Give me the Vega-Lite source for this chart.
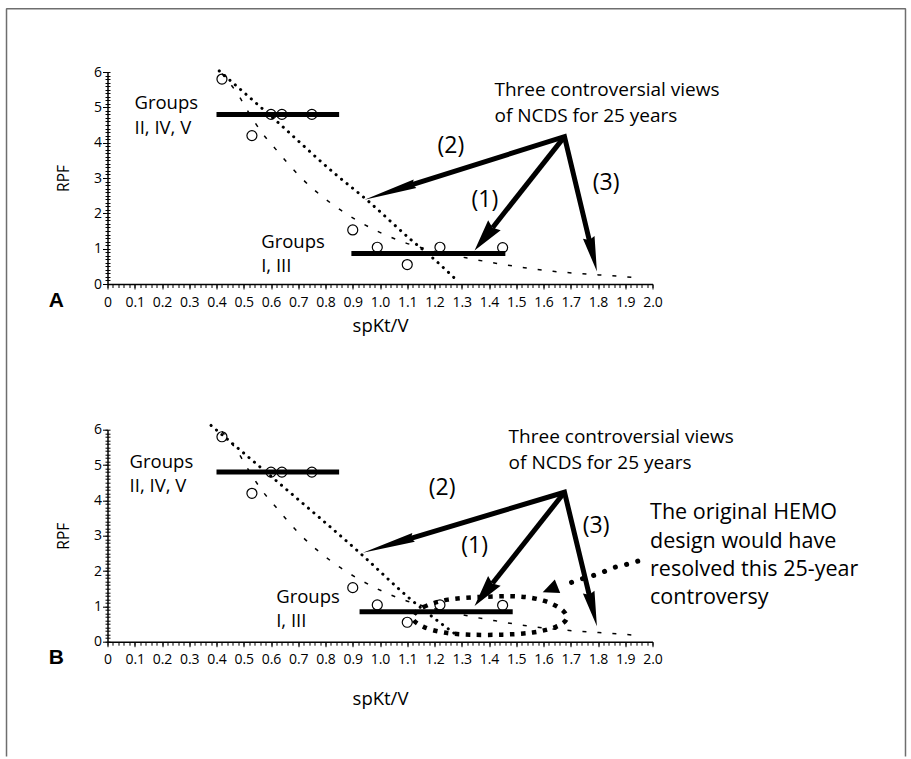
{
  "$schema": "https://vega.github.io/schema/vega-lite/v6.json",
  "autosize": {"type": "pad"},
  "padding": {"left": 5.5, "top": 8, "right": 3.5, "bottom": 0},
  "background": "white",
  "config": {
    "font": "Open Sans",
    "view": {"stroke": null},
    "style": {"guide-label": {"fontSize": 14, "font": "Open Sans", "fill": "black"}},
    "axis": {
      "labelFont": "Open Sans", "labelFontSize": 14, "labelColor": "black",
      "titleFont": "Open Sans", "titleFontSize": 18.5, "titleFontWeight": "normal", "titleColor": "black",
      "domainColor": "black", "domainWidth": 1.5, "tickColor": "black", "tickWidth": 1, "grid": false
    }
  },
  "datasets": {
    "frame": [
      {"x": -0.3706, "y": -13.37, "o": 1},
      {"x": -0.3706, "y": 7.789, "o": 2},
      {"x": 2.9284, "y": 7.789, "o": 3},
      {"x": 2.9284, "y": -13.37, "o": 4}
    ],
    "circles": [
      {"x": 0.42, "y": 5.8}, {"x": 0.53, "y": 4.2}, {"x": 0.6, "y": 4.8}, {"x": 0.64, "y": 4.8},
      {"x": 0.75, "y": 4.8}, {"x": 0.9, "y": 1.53}, {"x": 0.99, "y": 1.04}, {"x": 1.1, "y": 0.55},
      {"x": 1.22, "y": 1.04}, {"x": 1.45, "y": 1.03}
    ],
    "dashed": [
      {"x": 0.42, "y": 5.95}, {"x": 0.484, "y": 5.3}, {"x": 0.515, "y": 4.89}, {"x": 0.57, "y": 4.25},
      {"x": 0.618, "y": 3.81}, {"x": 0.705, "y": 3.05}, {"x": 0.826, "y": 2.25}, {"x": 0.925, "y": 1.76},
      {"x": 1.07, "y": 1.23}, {"x": 1.2, "y": 0.93}, {"x": 1.316, "y": 0.74}, {"x": 1.424, "y": 0.59},
      {"x": 1.53, "y": 0.46}, {"x": 1.635, "y": 0.36}, {"x": 1.742, "y": 0.29}, {"x": 1.848, "y": 0.235},
      {"x": 1.958, "y": 0.17}
    ],
    "dottedA": [
      {"x": 0.41, "y": 6.03}, {"x": 0.62, "y": 4.61}, {"x": 0.83, "y": 3.15}, {"x": 0.95, "y": 2.39},
      {"x": 1.12, "y": 1.21}, {"x": 1.19, "y": 0.76}, {"x": 1.28, "y": 0.12}
    ],
    "dottedB": [
      {"x": 0.38, "y": 6.12}, {"x": 0.62, "y": 4.55}, {"x": 0.925, "y": 2.52}, {"x": 1.12, "y": 1.15},
      {"x": 1.286, "y": 0.16}
    ],
    "barsA": [
      {"x": 0.4, "x2": 0.85, "y": 4.8}, {"x": 0.895, "x2": 1.46, "y": 0.865}
    ],
    "barsB": [
      {"x": 0.4, "x2": 0.85, "y": 4.8}, {"x": 0.925, "x2": 1.487, "y": 0.85}
    ],
    "shaft23A": [
      {"x": 1.118, "y": 2.81, "o": 1}, {"x": 1.677, "y": 4.17, "o": 2}, {"x": 1.768, "y": 1.237, "o": 3}
    ],
    "shaft1A": [
      {"x": 1.677, "y": 4.17, "o": 1}, {"x": 1.413, "y": 1.594, "o": 2}
    ],
    "headsA": [
      {"arrow": "1", "x": 1.347, "y": 0.951},
      {"arrow": "2", "x": 0.943, "y": 2.386},
      {"arrow": "3", "x": 1.796, "y": 0.357}
    ],
    "shaft23B": [
      {"x": 1.113, "y": 2.927, "o": 1}, {"x": 1.677, "y": 4.23, "o": 2}, {"x": 1.768, "y": 1.319, "o": 3}
    ],
    "shaft1B": [
      {"x": 1.677, "y": 4.23, "o": 1}, {"x": 1.413, "y": 1.653, "o": 2}
    ],
    "headsB": [
      {"arrow": "1", "x": 1.347, "y": 1.01},
      {"arrow": "2", "x": 0.937, "y": 2.52},
      {"arrow": "3", "x": 1.796, "y": 0.44},
      {"arrow": "hemo", "x": 1.597, "y": 1.4}
    ],
    "ellipse": [
      {"x": 1.12, "y": 0.68, "o": 1}, {"x": 1.16, "y": 0.98, "o": 2}, {"x": 1.25, "y": 1.19, "o": 3},
      {"x": 1.38, "y": 1.27, "o": 4}, {"x": 1.51, "y": 1.28, "o": 5}, {"x": 1.6, "y": 1.16, "o": 6},
      {"x": 1.665, "y": 0.92, "o": 7}, {"x": 1.685, "y": 0.65, "o": 8}, {"x": 1.645, "y": 0.42, "o": 9},
      {"x": 1.56, "y": 0.26, "o": 10}, {"x": 1.45, "y": 0.2, "o": 11}, {"x": 1.33, "y": 0.2, "o": 12},
      {"x": 1.235, "y": 0.26, "o": 13}, {"x": 1.16, "y": 0.42, "o": 14}
    ],
    "hemoDots": [
      {"x": 1.946, "y": 2.28, "o": 1}, {"x": 1.897, "y": 2.17, "o": 2}, {"x": 1.854, "y": 2.09, "o": 3},
      {"x": 1.818, "y": 1.97, "o": 4}, {"x": 1.774, "y": 1.85, "o": 5}, {"x": 1.732, "y": 1.76, "o": 6},
      {"x": 1.689, "y": 1.64, "o": 7}
    ],
    "groupsA": [
      {"x": 0.099, "y": 4.94, "t": "Groups\nII, IV, V"},
      {"x": 0.564, "y": 1.02, "t": "Groups\nI, III"}
    ],
    "groupsB": [
      {"x": 0.081, "y": 4.92, "t": "Groups\nII, IV, V"},
      {"x": 0.619, "y": 1.1, "t": "Groups\nI, III"}
    ],
    "parensA": [
      {"x": 1.26, "y": 3.9, "t": "(2)"}, {"x": 1.385, "y": 2.39, "t": "(1)"}, {"x": 1.83, "y": 2.86, "t": "(3)"}
    ],
    "parensB": [
      {"x": 1.228, "y": 4.35, "t": "(2)"}, {"x": 1.347, "y": 2.71, "t": "(1)"}, {"x": 1.793, "y": 3.27, "t": "(3)"}
    ],
    "threeA": [{"x": 1.42, "y": 5.31, "t": "Three controversial views\nof NCDS for 25 years"}],
    "threeB": [{"x": 1.472, "y": 5.63, "t": "Three controversial views\nof NCDS for 25 years"}],
    "hemoText": [{"x": 1.991, "y": 3.46, "t": "The original HEMO\ndesign would have\nresolved this 25-year\ncontroversy"}],
    "letterA": [{"x": -0.16, "y": -0.662, "t": "A"}],
    "letterB": [{"x": -0.16, "y": -0.643, "t": "B"}]
  },
  "spacing": 145.7,
  "bounds": "flush",
  "vconcat": [
    {
      "width": 545, "height": 212,
      "resolve": {"axis": {"x": "independent", "y": "independent"}},
      "layer": [
        {
          "data": {"name": "frame"},
          "mark": {"type": "line", "stroke": "#6e6e6e", "strokeWidth": 1.5, "strokeJoin": "bevel"},
          "encoding": {
            "x": {"field": "x", "type": "quantitative", "scale": {"domain": [0, 2], "nice": false}, "axis": null},
            "y": {"field": "y", "type": "quantitative", "scale": {"domain": [0, 6], "nice": false}, "axis": null},
            "order": {"field": "o"}
          }
        },
        {
          "data": {"name": "dashed"},
          "mark": {"type": "line", "color": "black", "strokeWidth": 1.5, "strokeDash": [4, 11], "interpolate": "monotone"},
          "encoding": {
            "x": {"field": "x", "type": "quantitative", "scale": {"domain": [0, 2], "nice": false},
              "axis": {"orient": "bottom", "tickCount": 100, "tickSize": 3.5, "labels": false, "domain": true, "title": null}},
            "y": {"field": "y", "type": "quantitative", "scale": {"domain": [0, 6], "nice": false}, "axis": null}
          }
        },
        {
          "data": {"name": "dottedA"},
          "mark": {"type": "line", "color": "black", "strokeWidth": 3, "strokeDash": [0.1, 7], "strokeCap": "round", "interpolate": "monotone"},
          "encoding": {
            "x": {"field": "x", "type": "quantitative", "scale": {"domain": [0, 2], "nice": false}, "axis": null},
            "y": {"field": "y", "type": "quantitative", "scale": {"domain": [0, 6], "nice": false},
              "axis": {"orient": "left", "tickCount": 60, "tickSize": -2.5, "labels": false, "domain": false, "title": null}}
          }
        },
        {
          "data": {"name": "barsA"},
          "mark": {"type": "rule", "color": "black", "strokeWidth": 5},
          "encoding": {
            "x": {"field": "x", "type": "quantitative", "scale": {"domain": [0, 2], "nice": false}, "axis": null},
            "x2": {"field": "x2"},
            "y": {"field": "y", "type": "quantitative", "scale": {"domain": [0, 6], "nice": false},
              "axis": {"orient": "left", "tickCount": 60, "tickSize": 2.5, "labels": false, "domain": true, "title": null}}
          }
        },
        {
          "data": {"name": "circles"},
          "mark": {"type": "point", "shape": "circle", "filled": false, "stroke": "black", "strokeWidth": 1.2, "size": 100, "opacity": 1},
          "encoding": {
            "x": {"field": "x", "type": "quantitative", "scale": {"domain": [0, 2], "nice": false},
              "axis": {"orient": "bottom", "tickCount": 20, "tickSize": 5, "domain": false, "labelOverlap": false, "labelFlush": false,
                "labelExpr": "datum.value == 0 ? '0' : format(datum.value, '.1f')",
                "labelFontSize": 14, "labelPadding": 6, "title": "spKt/V", "titleFontSize": 18.5, "titlePadding": 7}},
            "y": {"field": "y", "type": "quantitative", "scale": {"domain": [0, 6], "nice": false},
              "axis": {"orient": "left", "tickCount": 6, "tickSize": 5, "domain": false, "labelOverlap": false, "format": "d",
                "labelFontSize": 14, "labelPadding": 1, "title": "RPF", "titleFontSize": 15.5, "titlePadding": 22}}
          }
        },
        {
          "data": {"name": "shaft23A"},
          "mark": {"type": "line", "color": "black", "strokeWidth": 5, "strokeJoin": "miter"},
          "encoding": {
            "x": {"field": "x", "type": "quantitative", "scale": {"domain": [0, 2], "nice": false}, "axis": null},
            "y": {"field": "y", "type": "quantitative", "scale": {"domain": [0, 6], "nice": false}, "axis": null},
            "order": {"field": "o"}
          }
        },
        {
          "data": {"name": "shaft1A"},
          "mark": {"type": "line", "color": "black", "strokeWidth": 5},
          "encoding": {
            "x": {"field": "x", "type": "quantitative", "scale": {"domain": [0, 2], "nice": false}, "axis": null},
            "y": {"field": "y", "type": "quantitative", "scale": {"domain": [0, 6], "nice": false}, "axis": null},
            "order": {"field": "o"}
          }
        },
        {
          "data": {"name": "headsA"},
          "transform": [{"filter": "datum.arrow == '1'"}],
          "mark": {"type": "point", "shape": "M0,0L0.5,2L0,1.8L-0.5,2Z", "size": 1024, "angle": 218.4, "filled": true, "color": "black", "opacity": 1, "strokeWidth": 0},
          "encoding": {
            "x": {"field": "x", "type": "quantitative", "scale": {"domain": [0, 2], "nice": false}, "axis": null},
            "y": {"field": "y", "type": "quantitative", "scale": {"domain": [0, 6], "nice": false}, "axis": null}
          }
        },
        {
          "data": {"name": "headsA"},
          "transform": [{"filter": "datum.arrow == '2'"}],
          "mark": {"type": "point", "shape": "M0,0L0.17,2L0,1.9L-0.17,2Z", "size": 2809, "angle": 252.5, "filled": true, "color": "black", "opacity": 1, "strokeWidth": 0},
          "encoding": {
            "x": {"field": "x", "type": "quantitative", "scale": {"domain": [0, 2], "nice": false}, "axis": null},
            "y": {"field": "y", "type": "quantitative", "scale": {"domain": [0, 6], "nice": false}, "axis": null}
          }
        },
        {
          "data": {"name": "headsA"},
          "transform": [{"filter": "datum.arrow == '3'"}],
          "mark": {"type": "point", "shape": "M0,0L0.34,2L0,1.85L-0.34,2Z", "size": 1225, "angle": 166.5, "filled": true, "color": "black", "opacity": 1, "strokeWidth": 0},
          "encoding": {
            "x": {"field": "x", "type": "quantitative", "scale": {"domain": [0, 2], "nice": false}, "axis": null},
            "y": {"field": "y", "type": "quantitative", "scale": {"domain": [0, 6], "nice": false}, "axis": null}
          }
        },
        {
          "data": {"name": "groupsA"},
          "mark": {"type": "text", "align": "left", "baseline": "alphabetic", "fontSize": 18.5, "lineHeight": 24.5, "lineBreak": "\n", "color": "black"},
          "encoding": {
            "x": {"field": "x", "type": "quantitative", "scale": {"domain": [0, 2], "nice": false}, "axis": null},
            "y": {"field": "y", "type": "quantitative", "scale": {"domain": [0, 6], "nice": false}, "axis": null},
            "text": {"field": "t"}
          }
        },
        {
          "data": {"name": "parensA"},
          "mark": {"type": "text", "align": "center", "baseline": "middle", "fontSize": 23, "color": "black"},
          "encoding": {
            "x": {"field": "x", "type": "quantitative", "scale": {"domain": [0, 2], "nice": false}, "axis": null},
            "y": {"field": "y", "type": "quantitative", "scale": {"domain": [0, 6], "nice": false}, "axis": null},
            "text": {"field": "t"}
          }
        },
        {
          "data": {"name": "threeA"},
          "mark": {"type": "text", "align": "left", "baseline": "alphabetic", "fontSize": 19, "lineHeight": 26, "lineBreak": "\n", "color": "black"},
          "encoding": {
            "x": {"field": "x", "type": "quantitative", "scale": {"domain": [0, 2], "nice": false}, "axis": null},
            "y": {"field": "y", "type": "quantitative", "scale": {"domain": [0, 6], "nice": false}, "axis": null},
            "text": {"field": "t"}
          }
        },
        {
          "data": {"name": "letterA"},
          "mark": {"type": "text", "align": "right", "baseline": "alphabetic", "fontSize": 21, "font": "Liberation Sans", "fontWeight": "bold", "color": "black"},
          "encoding": {
            "x": {"field": "x", "type": "quantitative", "scale": {"domain": [0, 2], "nice": false}, "axis": null},
            "y": {"field": "y", "type": "quantitative", "scale": {"domain": [0, 6], "nice": false}, "axis": null},
            "text": {"field": "t"}
          }
        }
      ]
    },
    {
      "width": 545, "height": 212,
      "resolve": {"axis": {"x": "independent", "y": "independent"}},
      "layer": [
        {
          "data": {"name": "dashed"},
          "mark": {"type": "line", "color": "black", "strokeWidth": 1.5, "strokeDash": [4, 11], "interpolate": "monotone"},
          "encoding": {
            "x": {"field": "x", "type": "quantitative", "scale": {"domain": [0, 2], "nice": false},
              "axis": {"orient": "bottom", "tickCount": 100, "tickSize": 3.5, "labels": false, "domain": true, "title": null}},
            "y": {"field": "y", "type": "quantitative", "scale": {"domain": [0, 6], "nice": false}, "axis": null}
          }
        },
        {
          "data": {"name": "dottedB"},
          "mark": {"type": "line", "color": "black", "strokeWidth": 3, "strokeDash": [0.1, 7], "strokeCap": "round", "interpolate": "monotone"},
          "encoding": {
            "x": {"field": "x", "type": "quantitative", "scale": {"domain": [0, 2], "nice": false}, "axis": null},
            "y": {"field": "y", "type": "quantitative", "scale": {"domain": [0, 6], "nice": false},
              "axis": {"orient": "left", "tickCount": 60, "tickSize": -2.5, "labels": false, "domain": false, "title": null}}
          }
        },
        {
          "data": {"name": "barsB"},
          "mark": {"type": "rule", "color": "black", "strokeWidth": 5},
          "encoding": {
            "x": {"field": "x", "type": "quantitative", "scale": {"domain": [0, 2], "nice": false}, "axis": null},
            "x2": {"field": "x2"},
            "y": {"field": "y", "type": "quantitative", "scale": {"domain": [0, 6], "nice": false},
              "axis": {"orient": "left", "tickCount": 60, "tickSize": 2.5, "labels": false, "domain": true, "title": null}}
          }
        },
        {
          "data": {"name": "circles"},
          "mark": {"type": "point", "shape": "circle", "filled": false, "stroke": "black", "strokeWidth": 1.2, "size": 100, "opacity": 1},
          "encoding": {
            "x": {"field": "x", "type": "quantitative", "scale": {"domain": [0, 2], "nice": false},
              "axis": {"orient": "bottom", "tickCount": 20, "tickSize": 5, "domain": false, "labelOverlap": false, "labelFlush": false,
                "labelExpr": "datum.value == 0 ? '0' : format(datum.value, '.1f')",
                "labelFontSize": 14, "labelPadding": 6, "title": "spKt/V", "titleFontSize": 18.5, "titlePadding": 23}},
            "y": {"field": "y", "type": "quantitative", "scale": {"domain": [0, 6], "nice": false},
              "axis": {"orient": "left", "tickCount": 6, "tickSize": 5, "domain": false, "labelOverlap": false, "format": "d",
                "labelFontSize": 14, "labelPadding": 1, "title": "RPF", "titleFontSize": 15.5, "titlePadding": 22}}
          }
        },
        {
          "data": {"name": "ellipse"},
          "mark": {"type": "line", "color": "black", "strokeWidth": 4.5, "strokeDash": [4.5, 6.5], "interpolate": "cardinal-closed"},
          "encoding": {
            "x": {"field": "x", "type": "quantitative", "scale": {"domain": [0, 2], "nice": false}, "axis": null},
            "y": {"field": "y", "type": "quantitative", "scale": {"domain": [0, 6], "nice": false}, "axis": null},
            "order": {"field": "o"}
          }
        },
        {
          "data": {"name": "hemoDots"},
          "mark": {"type": "line", "color": "black", "strokeWidth": 5, "strokeDash": [0.1, 11.5], "strokeCap": "round", "interpolate": "monotone"},
          "encoding": {
            "x": {"field": "x", "type": "quantitative", "scale": {"domain": [0, 2], "nice": false}, "axis": null},
            "y": {"field": "y", "type": "quantitative", "scale": {"domain": [0, 6], "nice": false}, "axis": null},
            "order": {"field": "o"}
          }
        },
        {
          "data": {"name": "shaft23B"},
          "mark": {"type": "line", "color": "black", "strokeWidth": 5, "strokeJoin": "miter"},
          "encoding": {
            "x": {"field": "x", "type": "quantitative", "scale": {"domain": [0, 2], "nice": false}, "axis": null},
            "y": {"field": "y", "type": "quantitative", "scale": {"domain": [0, 6], "nice": false}, "axis": null},
            "order": {"field": "o"}
          }
        },
        {
          "data": {"name": "shaft1B"},
          "mark": {"type": "line", "color": "black", "strokeWidth": 5},
          "encoding": {
            "x": {"field": "x", "type": "quantitative", "scale": {"domain": [0, 2], "nice": false}, "axis": null},
            "y": {"field": "y", "type": "quantitative", "scale": {"domain": [0, 6], "nice": false}, "axis": null},
            "order": {"field": "o"}
          }
        },
        {
          "data": {"name": "headsB"},
          "transform": [{"filter": "datum.arrow == '1'"}],
          "mark": {"type": "point", "shape": "M0,0L0.5,2L0,1.8L-0.5,2Z", "size": 1024, "angle": 218.3, "filled": true, "color": "black", "opacity": 1, "strokeWidth": 0},
          "encoding": {
            "x": {"field": "x", "type": "quantitative", "scale": {"domain": [0, 2], "nice": false}, "axis": null},
            "y": {"field": "y", "type": "quantitative", "scale": {"domain": [0, 6], "nice": false}, "axis": null}
          }
        },
        {
          "data": {"name": "headsB"},
          "transform": [{"filter": "datum.arrow == '2'"}],
          "mark": {"type": "point", "shape": "M0,0L0.17,2L0,1.9L-0.17,2Z", "size": 2809, "angle": 253.3, "filled": true, "color": "black", "opacity": 1, "strokeWidth": 0},
          "encoding": {
            "x": {"field": "x", "type": "quantitative", "scale": {"domain": [0, 2], "nice": false}, "axis": null},
            "y": {"field": "y", "type": "quantitative", "scale": {"domain": [0, 6], "nice": false}, "axis": null}
          }
        },
        {
          "data": {"name": "headsB"},
          "transform": [{"filter": "datum.arrow == '3'"}],
          "mark": {"type": "point", "shape": "M0,0L0.34,2L0,1.85L-0.34,2Z", "size": 1225, "angle": 166.4, "filled": true, "color": "black", "opacity": 1, "strokeWidth": 0},
          "encoding": {
            "x": {"field": "x", "type": "quantitative", "scale": {"domain": [0, 2], "nice": false}, "axis": null},
            "y": {"field": "y", "type": "quantitative", "scale": {"domain": [0, 6], "nice": false}, "axis": null}
          }
        },
        {
          "data": {"name": "headsB"},
          "transform": [{"filter": "datum.arrow == 'hemo'"}],
          "mark": {"type": "point", "shape": "M0,0L0.9,2L-0.9,2Z", "size": 256, "angle": 248, "filled": true, "color": "black", "opacity": 1, "strokeWidth": 0},
          "encoding": {
            "x": {"field": "x", "type": "quantitative", "scale": {"domain": [0, 2], "nice": false}, "axis": null},
            "y": {"field": "y", "type": "quantitative", "scale": {"domain": [0, 6], "nice": false}, "axis": null}
          }
        },
        {
          "data": {"name": "groupsB"},
          "mark": {"type": "text", "align": "left", "baseline": "alphabetic", "fontSize": 18.5, "lineHeight": 24.5, "lineBreak": "\n", "color": "black"},
          "encoding": {
            "x": {"field": "x", "type": "quantitative", "scale": {"domain": [0, 2], "nice": false}, "axis": null},
            "y": {"field": "y", "type": "quantitative", "scale": {"domain": [0, 6], "nice": false}, "axis": null},
            "text": {"field": "t"}
          }
        },
        {
          "data": {"name": "parensB"},
          "mark": {"type": "text", "align": "center", "baseline": "middle", "fontSize": 23, "color": "black"},
          "encoding": {
            "x": {"field": "x", "type": "quantitative", "scale": {"domain": [0, 2], "nice": false}, "axis": null},
            "y": {"field": "y", "type": "quantitative", "scale": {"domain": [0, 6], "nice": false}, "axis": null},
            "text": {"field": "t"}
          }
        },
        {
          "data": {"name": "threeB"},
          "mark": {"type": "text", "align": "left", "baseline": "alphabetic", "fontSize": 19, "lineHeight": 26, "lineBreak": "\n", "color": "black"},
          "encoding": {
            "x": {"field": "x", "type": "quantitative", "scale": {"domain": [0, 2], "nice": false}, "axis": null},
            "y": {"field": "y", "type": "quantitative", "scale": {"domain": [0, 6], "nice": false}, "axis": null},
            "text": {"field": "t"}
          }
        },
        {
          "data": {"name": "hemoText"},
          "mark": {"type": "text", "align": "left", "baseline": "alphabetic", "fontSize": 21.5, "lineHeight": 28.3, "lineBreak": "\n", "color": "black"},
          "encoding": {
            "x": {"field": "x", "type": "quantitative", "scale": {"domain": [0, 2], "nice": false}, "axis": null},
            "y": {"field": "y", "type": "quantitative", "scale": {"domain": [0, 6], "nice": false}, "axis": null},
            "text": {"field": "t"}
          }
        },
        {
          "data": {"name": "letterB"},
          "mark": {"type": "text", "align": "right", "baseline": "alphabetic", "fontSize": 21, "font": "Liberation Sans", "fontWeight": "bold", "color": "black"},
          "encoding": {
            "x": {"field": "x", "type": "quantitative", "scale": {"domain": [0, 2], "nice": false}, "axis": null},
            "y": {"field": "y", "type": "quantitative", "scale": {"domain": [0, 6], "nice": false}, "axis": null},
            "text": {"field": "t"}
          }
        }
      ]
    }
  ]
}
